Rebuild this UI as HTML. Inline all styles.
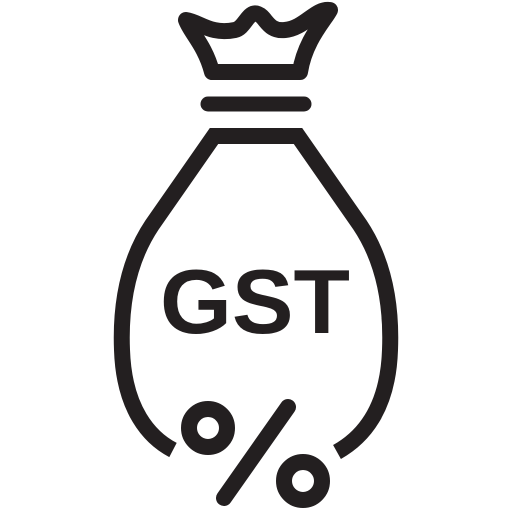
<!DOCTYPE html>
<html><head><meta charset="utf-8"><style>html,body{margin:0;padding:0;background:#fff}svg{display:block}</style></head>
<body>
<svg width="512" height="512" viewBox="0 0 512 512">
  <g fill="none" stroke="#231f20" stroke-width="16">
    <path d="M186,20 C200,22 210,35 235,30 C245,28 248,10 258,14 C266,17 268,32 285,30 C305,28 315,8 330,10 C325,20 305,40 300,72 L212,72 C205,45 190,32 186,20 Z" stroke-linejoin="round"/>
    <line x1="208" y1="104" x2="304" y2="104" stroke-width="15" stroke-linecap="round"/>
    <path d="M256,136 L214,136 L152,225 C130,258 120,300 122,350 C124,410 150,438 173,450"/>
    <path d="M256,136 L298,136 L360,225 C382,258 392,300 390,350 C388,410 362,438 337,452"/>
    <circle cx="208" cy="428" r="19"/>
    <circle cx="303" cy="481" r="19"/>
    <line x1="288" y1="407" x2="224" y2="498" stroke-linecap="round"/>
  </g>
  <text x="160" y="333" font-family="Liberation Sans, sans-serif" font-weight="bold" font-size="91" fill="#231f20" textLength="190" lengthAdjust="spacingAndGlyphs">GST</text>
</svg>
</body></html>
